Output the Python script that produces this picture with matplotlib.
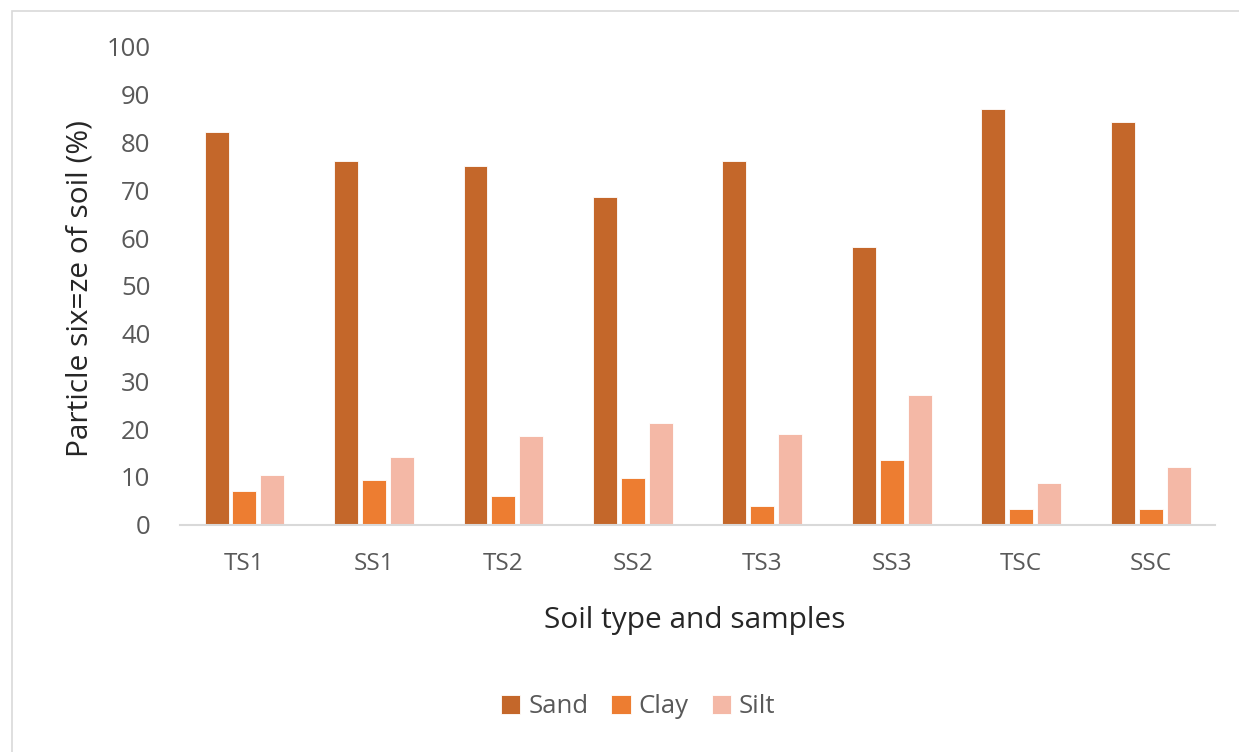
import numpy as np
import matplotlib.pyplot as plt
from matplotlib.patches import Rectangle

# ── Data ─────────────────────────────────────────────────────────────────────
samples = ["TS1", "SS1", "TS2", "SS2", "TS3", "SS3", "TSC", "SSC"]
sand = [82.1, 76.2, 75.0, 68.5, 76.2, 58.2, 87.0, 84.3]
clay = [7.1, 9.3, 6.0, 9.8, 3.8, 13.6, 3.3, 3.3]
silt = [10.3, 14.2, 18.5, 21.2, 19.0, 27.2, 8.7, 12.0]
y_ticks = [0, 10, 20, 30, 40, 50, 60, 70, 80, 90, 100]

series = [("Sand", sand, "#C4672A"),
          ("Clay", clay, "#ED7D31"),
          ("Silt", silt, "#F4B8A6")]

plt.rcParams["font.family"] = ["Open Sans", "DejaVu Sans"]
TXT = "#595959"

fig = plt.figure(figsize=(12.39, 7.52), dpi=100)
ax = fig.add_axes([0.145, 0.3025, 0.836, 0.635])

x = np.arange(len(samples))
slot = 0.215
width = 0.185
for i, (name, vals, col) in enumerate(series):
    ax.bar(x + (i - 1) * slot, vals, width, color=col, label=name,
           edgecolor="white", linewidth=0.6)

ax.set_xlim(-0.5, len(samples) - 0.5)
ax.set_ylim(0, 100)
ax.set_yticks(y_ticks)
ax.set_xticks(x)
ax.set_xticklabels(samples)

for s in ["top", "right", "left"]:
    ax.spines[s].set_visible(False)
ax.spines["bottom"].set_color("#D9D9D9")
ax.spines["bottom"].set_linewidth(1.5)
ax.tick_params(axis="both", length=0, colors=TXT)
ax.tick_params(axis="x", pad=20, labelsize=17.5)
ax.tick_params(axis="y", pad=21, labelsize=18.5)

ax.set_ylabel("Particle six=ze of soil (%)", fontsize=21.5, color="#262626")
ax.yaxis.set_label_coords(-0.082, 0.494)
ax.set_xlabel("Soil type and samples", fontsize=21.5, color="#262626")
ax.xaxis.set_label_coords(0.4976, -0.17)

leg = fig.legend(loc="center", bbox_to_anchor=(0.515, 0.06), ncol=3,
                 frameon=False, fontsize=18.5, handlelength=0.75,
                 handleheight=0.75, handletextpad=0.3, columnspacing=0.9)
for t in leg.get_texts():
    t.set_color(TXT)

# light chart-area border
fig.patches.append(Rectangle((0.01, -0.01), 1.0, 0.995, transform=fig.transFigure,
                             fill=False, edgecolor="#D9D9D9", linewidth=1.2))

fig.savefig("out.png", dpi=100)
